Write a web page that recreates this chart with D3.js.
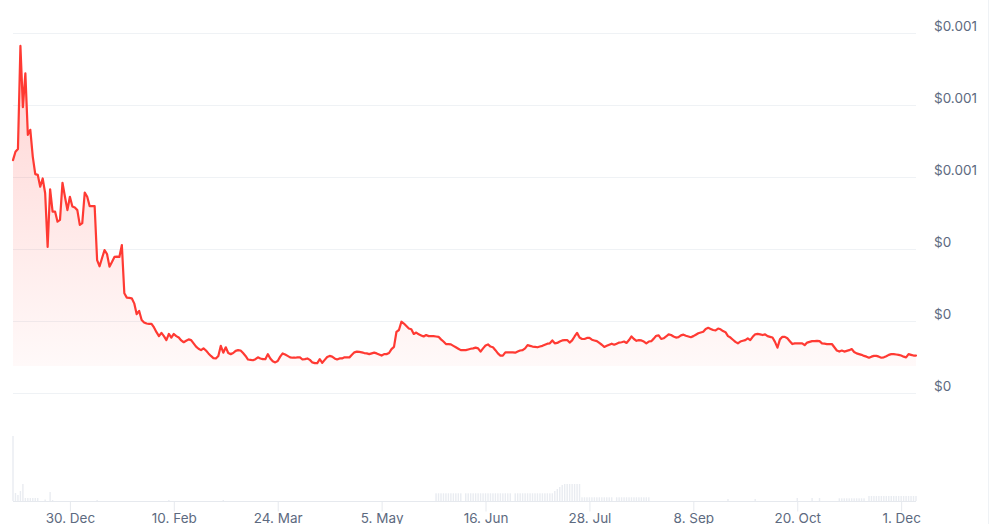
<!DOCTYPE html>
<html>
<head>
<meta charset="utf-8">
<script src="https://cdn.jsdelivr.net/npm/d3@7"></script>
<style>
  html, body { margin: 0; padding: 0; background: #fff; }
  svg { display: block; font-family: Inter, "Noto Sans", sans-serif; }
</style>
</head>
<body>
<svg id="chart" width="991" height="524"></svg>
<script>
// ---------------- data ----------------
const startDate = "2024-12-07";   // first daily point
// daily closing price (USD), one value per day from startDate
const prices = [
647e-6,670e-6,678e-6,964e-6,794e-6,888e-6,717e-6,731e-6,656e-6,608e-6,
606e-6,573e-6,596e-6,555e-6,406e-6,566e-6,504e-6,504e-6,476e-6,481e-6,
584e-6,545e-6,508e-6,545e-6,518e-6,515e-6,508e-6,467e-6,472e-6,557e-6,
545e-6,519e-6,519e-6,519e-6,369e-6,352e-6,375e-6,397e-6,386e-6,351e-6,
364e-6,378e-6,379e-6,378e-6,411e-6,277e-6,265e-6,264e-6,263e-6,249e-6,
219e-6,228e-6,203e-6,196e-6,193e-6,192e-6,192e-6,182e-6,169e-6,158e-6,
167e-6,158e-6,147e-6,164e-6,154e-6,164e-6,158e-6,154e-6,146e-6,141e-6,
145e-6,149e-6,147e-6,138e-6,129e-6,123e-6,119e-6,124e-6,118e-6,110e-6,
103e-6,97e-6,96e-6,103e-6,131e-6,112e-6,127e-6,111e-6,108e-6,111e-6,
117e-6,119e-6,118e-6,111e-6,103e-6,93e-6,92e-6,91e-6,94e-6,99e-6,
96e-6,94e-6,94e-6,108e-6,96e-6,88e-6,85e-6,89e-6,101e-6,110e-6,
107e-6,103e-6,99e-6,98e-6,98e-6,99e-6,99e-6,93e-6,94e-6,96e-6,
92e-6,85e-6,83e-6,83e-6,94e-6,84e-6,92e-6,100e-6,103e-6,101e-6,
96e-6,93e-6,96e-6,96e-6,99e-6,99e-6,99e-6,106e-6,113e-6,115e-6,
114e-6,113e-6,111e-6,110e-6,108e-6,110e-6,112e-6,110e-6,107e-6,104e-6,
108e-6,108e-6,111e-6,122e-6,128e-6,170e-6,175e-6,198e-6,193e-6,186e-6,
179e-6,177e-6,164e-6,168e-6,163e-6,160e-6,157e-6,161e-6,158e-6,158e-6,
158e-6,157e-6,156e-6,149e-6,143e-6,136e-6,136e-6,135e-6,131e-6,127e-6,
123e-6,119e-6,119e-6,119e-6,121e-6,123e-6,124e-6,126e-6,124e-6,115e-6,
124e-6,132e-6,135e-6,129e-6,127e-6,119e-6,110e-6,104e-6,104e-6,113e-6,
113e-6,113e-6,113e-6,112e-6,115e-6,118e-6,119e-6,124e-6,133e-6,131e-6,
129e-6,128e-6,127e-6,129e-6,131e-6,134e-6,137e-6,138e-6,146e-6,138e-6,
139e-6,143e-6,146e-6,147e-6,147e-6,140e-6,146e-6,157e-6,167e-6,154e-6,
150e-6,150e-6,153e-6,153e-6,148e-6,146e-6,144e-6,139e-6,134e-6,128e-6,
131e-6,134e-6,137e-6,134e-6,137e-6,140e-6,141e-6,143e-6,139e-6,147e-6,
157e-6,150e-6,145e-6,147e-6,146e-6,143e-6,138e-6,143e-6,144e-6,151e-6,
159e-6,160e-6,150e-6,152e-6,157e-6,163e-6,161e-6,157e-6,154e-6,155e-6,
160e-6,162e-6,159e-6,157e-6,155e-6,158e-6,162e-6,166e-6,168e-6,170e-6,
178e-6,181e-6,178e-6,175e-6,174e-6,179e-6,177e-6,172e-6,169e-6,158e-6,
154e-6,148e-6,142e-6,138e-6,143e-6,145e-6,147e-6,152e-6,147e-6,156e-6,
163e-6,164e-6,163e-6,161e-6,163e-6,158e-6,156e-6,154e-6,142e-6,126e-6,
149e-6,156e-6,156e-6,152e-6,144e-6,136e-6,138e-6,138e-6,138e-6,138e-6,
133e-6,140e-6,142e-6,144e-6,144e-6,145e-6,144e-6,138e-6,137e-6,136e-6,
136e-6,136e-6,127e-6,118e-6,115e-6,118e-6,115e-6,117e-6,119e-6,122e-6,
114e-6,110e-6,108e-6,106e-6,103e-6,101e-6,98e-6,101e-6,103e-6,103e-6,
101e-6,98e-6,99e-6,102e-6,106e-6,108e-6,108e-6,107e-6,106e-6,104e-6,
101e-6,99e-6,108e-6,106e-6,104e-6,104e-6
];
// daily trading volume (relative units), one value per day from startDate
const volumes = [
650,80,60,100,170,30,30,30,30,30,
30,0,0,15,0,90,10,0,0,0,
0,0,0,0,0,0,0,0,0,0,
0,0,0,0,10,0,0,0,0,0,
0,0,0,0,0,0,0,0,0,0,
0,0,0,0,0,0,0,0,0,0,
0,0,0,10,0,0,0,0,0,0,
0,0,0,0,0,0,0,0,0,0,
0,0,0,0,0,10,0,0,0,0,
0,0,0,0,0,0,0,0,0,0,
0,0,0,0,0,0,0,0,0,0,
0,0,0,0,0,0,0,0,0,0,
0,0,0,0,0,0,0,0,0,0,
0,0,0,0,0,0,0,0,0,0,
0,0,0,0,0,0,0,0,0,0,
0,0,0,0,0,0,0,0,0,0,
0,0,0,0,0,0,0,0,0,0,
0,77,77,77,77,77,77,77,77,77,
77,77,0,77,77,77,77,77,77,77,
77,77,77,77,77,77,77,77,77,77,
77,77,0,77,77,77,77,77,77,77,
77,77,77,77,77,77,77,77,77,100,
120,140,160,170,170,170,170,170,170,170,
37,37,37,37,37,37,37,37,37,37,
37,37,37,0,37,37,37,37,37,37,
37,37,37,37,37,37,37,37,0,0,
0,0,0,0,0,0,0,0,0,0,
0,0,0,0,0,0,0,0,0,0,
0,0,0,0,0,0,0,0,0,20,
0,0,0,0,0,0,0,0,0,0,
20,0,0,0,0,0,0,0,0,0,
0,0,0,0,0,0,0,30,0,0,
0,0,0,30,0,0,30,0,0,0,
0,0,0,0,27,27,27,27,27,27,
27,27,27,27,27,0,50,50,50,50,
50,50,50,50,50,50,50,50,50,50,
50,50,50,50,50,50
];
const xTickDates = ["2024-12-30","2025-02-10","2025-03-24","2025-05-05","2025-06-16",
                    "2025-07-28","2025-09-08","2025-10-20","2025-12-01"];
const yTickValues = [0, 0.0002, 0.0004, 0.0006, 0.0008, 0.001];
const yTickLabels = ["$0", "$0", "$0", "$0.001", "$0.001", "$0.001"];

// ---------------- layout ----------------
const W = 991, H = 524;
const plot = { left: 13, right: 916, top: 33, bottom: 393 };
const volPane = { top: 436, bottom: 501 };
const colors = {
  line: "#ff3a33", grid: "#eff2f5", axis: "#e6e9ee", text: "#5d6a80", vol: "#e9ecf1"
};

const parse = d3.utcParse("%Y-%m-%d");
const t0 = parse(startDate);
const series = prices.map((p, i) => ({ date: d3.utcDay.offset(t0, i), price: p, vol: volumes[i] }));

const x = d3.scaleUtc()
  .domain([series[0].date, series[series.length - 1].date])
  .range([plot.left, plot.right]);
const y = d3.scaleLinear().domain([0, 0.001]).range([plot.bottom, plot.top]);
const v = d3.scaleLinear().domain([0, d3.max(volumes)]).range([volPane.bottom, volPane.top]);

const svg = d3.select("#chart");

// right border of the chart panel
svg.append("line")
  .attr("x1", 988.5).attr("x2", 988.5).attr("y1", 0).attr("y2", H)
  .attr("stroke", colors.grid).attr("stroke-width", 1);

// gridlines + y labels
const yAxis = svg.append("g");
yAxis.selectAll("line.grid").data(yTickValues).join("line")
  .attr("class", "grid")
  .attr("x1", plot.left).attr("x2", plot.right)
  .attr("y1", d => Math.round(y(d)) + 0.5).attr("y2", d => Math.round(y(d)) + 0.5)
  .attr("stroke", colors.grid).attr("stroke-width", 1);
yAxis.selectAll("text").data(yTickValues).join("text")
  .attr("x", 934)
  .attr("y", d => y(d) - 7)
  .attr("dy", "0.35em")
  .attr("fill", colors.text)
  .attr("font-size", "13.5px")
  .text((d, i) => yTickLabels[i]);

// gradient for area
const defs = svg.append("defs");
const grad = defs.append("linearGradient").attr("id", "areaGrad")
  .attr("x1", 0).attr("y1", 0).attr("x2", 0).attr("y2", 1);
grad.append("stop").attr("offset", "0%").attr("stop-color", colors.line).attr("stop-opacity", 0.22);
grad.append("stop").attr("offset", "100%").attr("stop-color", colors.line).attr("stop-opacity", 0.03);

const floorY = y(d3.min(prices)) + 3;
const area = d3.area()
  .x(d => x(d.date))
  .y0(floorY)
  .y1(d => y(d.price));
svg.append("path").datum(series)
  .attr("d", area)
  .attr("fill", "url(#areaGrad)");

// volume bars
svg.append("g").selectAll("rect").data(series.filter(d => d.vol > 0)).join("rect")
  .attr("x", d => x(d.date) - 0.7)
  .attr("width", 1.4)
  .attr("y", d => v(d.vol))
  .attr("height", d => volPane.bottom - v(d.vol))
  .attr("fill", colors.vol);

// price line
const line = d3.line().x(d => x(d.date)).y(d => y(d.price));
svg.append("path").datum(series)
  .attr("d", line)
  .attr("fill", "none")
  .attr("stroke", colors.line)
  .attr("stroke-width", 2.2)
  .attr("stroke-linejoin", "round")
  .attr("stroke-linecap", "round");

// x axis
const xTicks = xTickDates.map(parse);
const xAxis = d3.axisBottom(x)
  .tickValues(xTicks)
  .tickFormat(d3.utcFormat("%-d. %b"))
  .tickSize(10)
  .tickPadding(2);
const gx = svg.append("g")
  .attr("transform", `translate(0,${volPane.bottom + 0.5})`)
  .call(xAxis);
gx.select(".domain").attr("stroke", colors.axis).attr("d", `M${plot.left},0H${plot.right}`);
gx.selectAll(".tick line").attr("stroke", colors.axis);
gx.selectAll(".tick text")
  .attr("fill", colors.text)
  .attr("font-size", "13.5px")
  .attr("font-family", "Inter, 'Noto Sans', sans-serif");
</script>
</body>
</html>
